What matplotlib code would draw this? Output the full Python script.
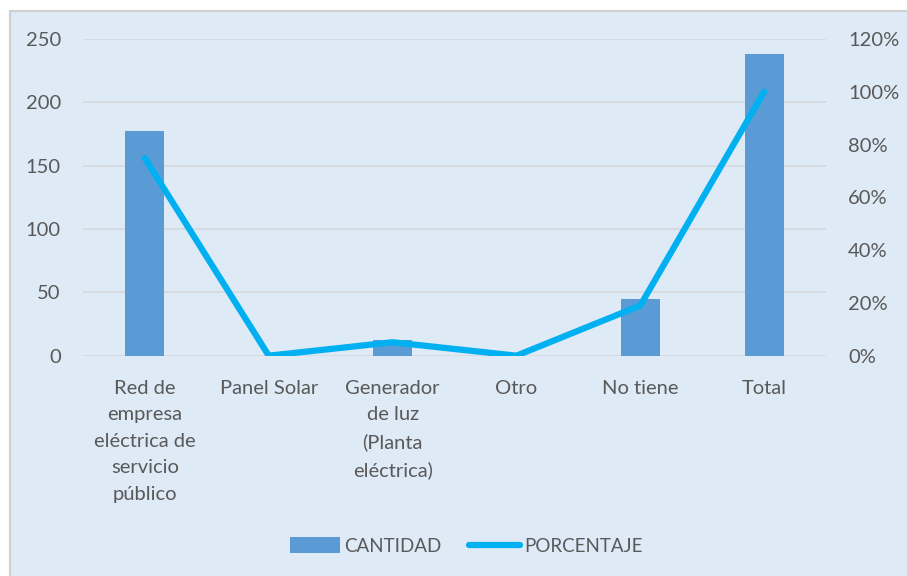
import matplotlib
matplotlib.use("Agg")
import matplotlib.pyplot as plt
from matplotlib.patches import Rectangle
from matplotlib.ticker import FuncFormatter
from matplotlib.lines import Line2D
from matplotlib.patches import Patch

categories = ["Red de\nempresa\neléctrica de\nservicio\npúblico", "Panel Solar",
              "Generador\nde luz\n(Planta\neléctrica)", "Otro", "No tiene", "Total"]
cantidad = [177, 0, 12, 0, 45, 238]
porcentaje = [0.748, 0.0, 0.051, 0.0, 0.19, 1.0]
left_ticks = [0, 50, 100, 150, 200, 250]
right_ticks = [0, 0.2, 0.4, 0.6, 0.8, 1.0, 1.2]

plt.rcParams['font.family'] = ['Lato', 'DejaVu Sans']
txt = '#595959'
bg = '#DEEAF6'
bar_c = '#5B9BD5'
line_c = '#00B0F0'

W, H = 907, 576
fig = plt.figure(figsize=(W/100, H/100), dpi=100)
fig.patch.set_facecolor('white')
fig.patches.append(Rectangle((10/W, -0.01), 1.01 - 10/W, 1.01 - 11/H, transform=fig.transFigure,
                             facecolor=bg, edgecolor='#D0D0D0', linewidth=1.5, zorder=-10))

ax = fig.add_axes([83/W, 1 - 355.7/H, (826 - 83)/W, (355.7 - 39)/H])
ax.set_facecolor('none')
x = list(range(len(categories)))
ax.bar(x, cantidad, width=0.315, color=bar_c, zorder=2)
ax.set_xlim(-0.5, len(categories) - 0.5)
ax.set_ylim(0, 250)
ax.set_yticks(left_ticks)
ax.yaxis.grid(True, color='#D4D8DC', linewidth=1.2, zorder=0)
ax.set_axisbelow(True)
for s in ax.spines.values():
    s.set_visible(False)
ax.tick_params(length=0, labelsize=14.5, colors=txt)
ax.tick_params(axis='y', pad=16)
ax.set_xticks(x)
ax.set_xticklabels(categories, linespacing=1.67, va='top')
ax.tick_params(axis='x', pad=17.5)

ax2 = ax.twinx()
ax2.plot(x, porcentaje, color=line_c, linewidth=4.5, solid_capstyle='round', zorder=3)
ax2.set_ylim(0, 1.2)
ax2.set_yticks(right_ticks)
ax2.yaxis.set_major_formatter(FuncFormatter(lambda v, p: f"{v*100:.0f}%"))
for s in ax2.spines.values():
    s.set_visible(False)
ax2.tick_params(length=0, labelsize=14.5, colors=txt, pad=16)

handles = [Patch(facecolor=bar_c, label='CANTIDAD'),
           Line2D([0], [0], color=line_c, linewidth=4.5, solid_capstyle='round', label='PORCENTAJE')]
fig.legend(handles=handles, loc='center', bbox_to_anchor=(466/W, 1 - 546/H), ncol=2,
           frameon=False, fontsize=13.5, labelcolor=txt, handlelength=2.7, handletextpad=0.2,
           columnspacing=1.5, handleheight=0.9)

fig.savefig('out.png', dpi=100, facecolor='white')
